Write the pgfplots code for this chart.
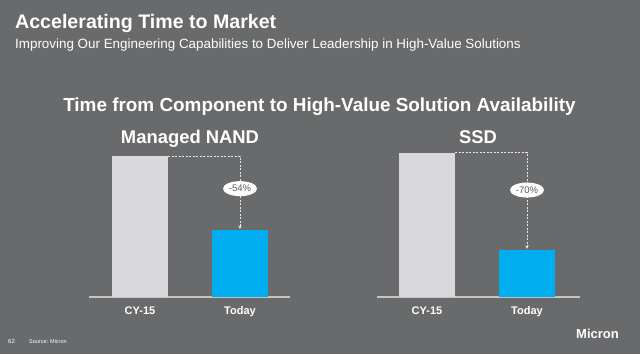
\documentclass[border=0pt]{standalone}
\usepackage{pgfplots}
\pgfplotsset{compat=1.18}
\usepackage{fontspec}
\setmainfont{Liberation Sans}
\newfontfamily\logofont{Liberation Sans}
\usetikzlibrary{shapes.geometric,arrows.meta}
\definecolor{bg}{HTML}{696A6C}
\definecolor{bargray}{HTML}{D9D9DB}
\definecolor{barblue}{HTML}{00AEEF}
\definecolor{basegray}{HTML}{C4C4C4}
\definecolor{labgray}{HTML}{5A5A5A}
\definecolor{dashc}{HTML}{E6E6E6}
\pgfplotsset{
  panel/.style={
    scale only axis, width=201pt, height=150pt,
    ymin=0, ymax=106.6,
    axis x line=bottom, axis y line=none,
    x axis line style={color=basegray, line width=1.2pt, -},
    major tick length=0pt,
    xtick={0,1}, xticklabels={CY-15,Today},
    xticklabel style={text=white, font=\fontsize{11}{13}\selectfont\bfseries, inner sep=0pt, anchor=base, yshift=-17pt},
    ytick=\empty,
    clip=false,
    ybar, bar width=0.56, bar shift=0pt,
  },
}
\tikzset{
  arrowsty/.style={draw=dashc, line width=0.8pt, dash pattern=on 2pt off 1.5pt, -{Stealth[length=3.5pt,width=3.5pt]}},
  pct/.style={ellipse, fill=white, minimum width=34pt, minimum height=15pt, inner sep=0pt, text=labgray, font=\fontsize{9.5}{11}\selectfont},
}
\begin{document}
\begin{tikzpicture}[x=1pt,y=1pt]
\fill[bg] (0,0) rectangle (640,354);
\node[anchor=base west, inner sep=0pt, text=white, font=\fontsize{19.6}{24}\selectfont\bfseries] at (15,325.5) {Accelerating Time to Market};
\node[anchor=base west, inner sep=0pt, text=white, font=\fontsize{13.4}{16}\selectfont] at (15,305.7) {Improving Our Engineering Capabilities to Deliver Leadership in High-Value Solutions};
\node[anchor=base, inner sep=0pt, text=white, font=\fontsize{18.9}{23}\selectfont\bfseries] at (319.5,242) {Time from Component to High-Value Solution Availability};
\node[anchor=base, inner sep=0pt, text=white, font=\fontsize{18.4}{22}\selectfont\bfseries] at (190,210) {Managed NAND};
\node[anchor=base, inner sep=0pt, text=white, font=\fontsize{18.4}{22}\selectfont\bfseries] at (478,210) {SSD};

\begin{axis}[panel, at={(140pt,57pt)}, anchor=origin, xmin=-0.51, xmax=1.5]
\addplot[fill=bargray, draw=none] coordinates {(0,100)};
\addplot[fill=barblue, draw=none] coordinates {(1,47.4)};
\draw[arrowsty] (axis cs:0.28,100) -| (axis cs:1,48.4);
\node[pct] at (axis cs:1,77) {-54\%};
\end{axis}

\begin{axis}[panel, width=203pt, at={(427pt,57pt)}, anchor=origin, xmin=-0.5, xmax=1.53]
\addplot[fill=bargray, draw=none] coordinates {(0,102.6)};
\addplot[fill=barblue, draw=none] coordinates {(1,33.2)};
\draw[arrowsty] (axis cs:0.28,102.6) -| (axis cs:1,34.2);
\node[pct] at (axis cs:1,76) {-70\%};
\end{axis}

\node[anchor=base west, inner sep=0pt, text=white, font=\fontsize{6}{7}\selectfont] at (8,11) {62};
\node[anchor=base west, inner sep=0pt, text=white, font=\fontsize{5.5}{7}\selectfont] at (29,11) {Source: Micron};
\node[anchor=base west, inner sep=0pt, text=white, font=\logofont\fontsize{13}{15}\selectfont\bfseries] at (576,15.5) {Micron};
\end{tikzpicture}
\end{document}
